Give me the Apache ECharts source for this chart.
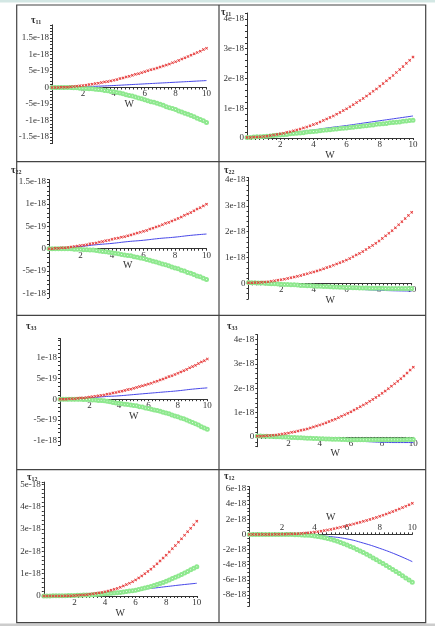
<!DOCTYPE html>
<html>
<head>
<meta charset="utf-8">
<script src="https://cdn.jsdelivr.net/npm/echarts@6/dist/echarts.min.js"></script>
<style>
body{margin:0;background:#fff}
#chart{width:435px;height:626px}
</style>
</head>
<body>
<div id="chart"></div>
<script>
// W samples for the marker curves (red crosses, green circles)
var W = [0,0.2,0.4,0.6,0.8,1,1.2,1.4,1.6,1.8,2,2.2,2.4,2.6,2.8,3,3.2,3.4,3.6,3.8,4,4.2,4.4,4.6,4.8,5,5.2,5.4,5.6,5.8,6,6.2,6.4,6.6,6.8,7,7.2,7.4,7.6,7.8,8,8.2,8.4,8.6,8.8,9,9.2,9.4,9.6,9.8,10];
// W samples for the blue solid curves
var W_INT = [0,1,2,3,4,5,6,7,8,9,10];

// all values in units of 1e-18
var red11L = [0,0,0,0.01,0.01, 0.01,0.02,0.03,0.04,0.05, 0.06,0.07,0.09,0.1,0.12, 0.13,0.15,0.17,0.18,0.2, 0.22,0.24,0.27,0.29,0.32, 0.34,0.37,0.4,0.42,0.45, 0.48,0.51,0.54,0.56,0.59, 0.62,0.65,0.68,0.71,0.75, 0.78,0.82,0.86,0.9,0.94, 0.98,1.02,1.06,1.1,1.15, 1.19];
var green11L = [0,0,0,0,0, 0,0,-0.01,-0.01,-0.02, -0.02,-0.03,-0.04,-0.04,-0.05, -0.06,-0.07,-0.09,-0.1,-0.12, -0.13,-0.15,-0.17,-0.19,-0.22, -0.24,-0.26,-0.29,-0.32,-0.34, -0.37,-0.4,-0.43,-0.45,-0.48, -0.51,-0.54,-0.58,-0.61,-0.64, -0.67,-0.71,-0.74,-0.78,-0.81, -0.85,-0.89,-0.93,-0.97,-1.01, -1.06];
var blue11L = [0,0.005,0.02,0.04,0.06,0.085,0.11,0.135,0.16,0.185,0.21];

var red11R = [0.02,0.02,0.03,0.03,0.04, 0.05,0.06,0.08,0.1,0.12, 0.14,0.16,0.19,0.21,0.24, 0.27,0.3,0.34,0.37,0.41, 0.45,0.49,0.54,0.59,0.64, 0.69,0.74,0.8,0.86,0.92, 0.98,1.05,1.12,1.19,1.26, 1.33,1.41,1.49,1.57,1.65, 1.74,1.83,1.92,2.01,2.1, 2.2,2.3,2.4,2.51,2.61, 2.72];
var green11R = [0.02,0.02,0.03,0.04,0.04, 0.05,0.06,0.07,0.08,0.09, 0.1,0.11,0.12,0.14,0.15, 0.16,0.17,0.18,0.2,0.21, 0.22,0.23,0.24,0.26,0.27, 0.28,0.29,0.3,0.32,0.33, 0.34,0.35,0.36,0.38,0.39, 0.4,0.41,0.43,0.44,0.46, 0.47,0.48,0.49,0.51,0.52, 0.53,0.54,0.56,0.57,0.59, 0.6];
var blue11R = [0.02,0.07,0.13,0.2,0.27,0.35,0.42,0.5,0.58,0.66,0.74];

var red22L = [0,0,0.01,0.01,0.02, 0.02,0.03,0.04,0.05,0.06, 0.07,0.08,0.09,0.11,0.12, 0.13,0.15,0.16,0.18,0.19, 0.21,0.23,0.24,0.26,0.27, 0.29,0.31,0.33,0.35,0.37, 0.39,0.41,0.44,0.46,0.49, 0.51,0.54,0.57,0.59,0.62, 0.65,0.68,0.71,0.75,0.78, 0.81,0.85,0.89,0.92,0.96, 1.0];
var green22L = [0,0,0,0,0, 0,0,0,-0.01,-0.01, -0.01,-0.02,-0.02,-0.03,-0.03, -0.04,-0.05,-0.06,-0.07,-0.08, -0.09,-0.1,-0.11,-0.13,-0.14, -0.15,-0.16,-0.18,-0.19,-0.21, -0.22,-0.24,-0.26,-0.28,-0.3, -0.32,-0.34,-0.36,-0.38,-0.41, -0.43,-0.45,-0.48,-0.5,-0.53, -0.55,-0.58,-0.61,-0.63,-0.66, -0.69];
var blue22L = [0,0.02,0.05,0.09,0.12,0.16,0.19,0.23,0.26,0.3,0.33];

var red22R = [0.02,0.02,0.03,0.03,0.04, 0.05,0.06,0.08,0.1,0.12, 0.14,0.16,0.19,0.22,0.24, 0.27,0.3,0.34,0.37,0.41, 0.44,0.48,0.52,0.56,0.61, 0.65,0.7,0.75,0.8,0.85, 0.9,0.96,1.03,1.1,1.16, 1.23,1.31,1.39,1.47,1.55, 1.64,1.74,1.84,1.94,2.04, 2.15,2.27,2.39,2.51,2.63, 2.75];
var green22R = [0.03,0.02,0.02,0.01,0.01, 0,-0.01,-0.02,-0.02,-0.03, -0.04,-0.05,-0.05,-0.06,-0.06, -0.07,-0.08,-0.08,-0.09,-0.09, -0.1,-0.11,-0.11,-0.12,-0.12, -0.13,-0.14,-0.14,-0.15,-0.15, -0.16,-0.16,-0.17,-0.17,-0.18, -0.18,-0.18,-0.19,-0.19,-0.19, -0.19,-0.19,-0.2,-0.2,-0.2, -0.2,-0.2,-0.2,-0.2,-0.2, -0.2];
var blue22R = [0.03,0,-0.04,-0.08,-0.12,-0.16,-0.2,-0.24,-0.27,-0.29,-0.3];

var red33L = [0,0,0,0.01,0.01, 0.01,0.02,0.03,0.03,0.04, 0.05,0.06,0.07,0.08,0.09, 0.1,0.12,0.13,0.15,0.16, 0.18,0.19,0.21,0.23,0.24, 0.26,0.28,0.3,0.32,0.34, 0.36,0.38,0.41,0.43,0.46, 0.48,0.51,0.54,0.56,0.59, 0.62,0.65,0.68,0.71,0.75, 0.78,0.81,0.85,0.89,0.92, 0.96];
var green33L = [0,0,0,0,0, 0,0,0,-0.01,-0.01, -0.01,-0.02,-0.02,-0.03,-0.03, -0.04,-0.05,-0.06,-0.08,-0.09, -0.1,-0.11,-0.12,-0.13,-0.14, -0.15,-0.16,-0.18,-0.19,-0.21, -0.22,-0.24,-0.26,-0.27,-0.29, -0.31,-0.33,-0.35,-0.38,-0.4, -0.42,-0.45,-0.47,-0.5,-0.53, -0.56,-0.59,-0.62,-0.66,-0.69, -0.72];
var blue33L = [0,0.01,0.03,0.06,0.08,0.11,0.14,0.17,0.2,0.24,0.27];

var red33R = [0.03,0.03,0.04,0.05,0.06, 0.07,0.08,0.1,0.12,0.14, 0.16,0.19,0.21,0.24,0.27, 0.3,0.33,0.37,0.41,0.45, 0.49,0.53,0.58,0.63,0.68, 0.73,0.79,0.85,0.91,0.97, 1.03,1.1,1.17,1.24,1.31, 1.38,1.46,1.54,1.62,1.7, 1.79,1.88,1.98,2.08,2.18, 2.28,2.39,2.5,2.62,2.74, 2.86];
var green33R = [0.04,0.04,0.03,0.03,0.02, 0.02,0.01,0.01,0,0, -0.01,-0.02,-0.02,-0.03,-0.03, -0.04,-0.05,-0.05,-0.06,-0.06, -0.07,-0.07,-0.08,-0.08,-0.09, -0.09,-0.09,-0.1,-0.1,-0.11, -0.11,-0.11,-0.11,-0.12,-0.12, -0.12,-0.12,-0.12,-0.12,-0.12, -0.12,-0.12,-0.12,-0.12,-0.11, -0.11,-0.11,-0.11,-0.1,-0.1, -0.1];
var blue33R = [0.04,0.02,-0.01,-0.04,-0.08,-0.12,-0.16,-0.19,-0.22,-0.23,-0.23];

var red12L = [0,0,0,0,0, 0,0,0.01,0.01,0.01, 0.02,0.03,0.04,0.05,0.06, 0.08,0.1,0.12,0.14,0.16, 0.19,0.22,0.26,0.3,0.34, 0.39,0.45,0.51,0.57,0.64, 0.72,0.81,0.9,1.0,1.1, 1.2,1.32,1.44,1.57,1.7, 1.83,1.97,2.12,2.26,2.41, 2.56,2.72,2.88,3.03,3.19, 3.35];
var green12L = [0,0,0,0.01,0.01, 0.01,0.01,0.01,0.02,0.02, 0.02,0.03,0.03,0.04,0.04, 0.05,0.06,0.07,0.08,0.09, 0.1,0.11,0.12,0.13,0.15, 0.16,0.18,0.2,0.22,0.24, 0.26,0.29,0.32,0.36,0.39, 0.43,0.47,0.52,0.56,0.61, 0.66,0.72,0.78,0.84,0.9, 0.96,1.03,1.1,1.17,1.24, 1.31];
var blue12L = [0,0.01,0.03,0.07,0.13,0.2,0.27,0.34,0.42,0.5,0.57];

var red12R = [0,0,0,0,0, 0,0,0,0.01,0.01, 0.02,0.03,0.05,0.06,0.08, 0.1,0.13,0.17,0.21,0.25, 0.3,0.36,0.43,0.5,0.58, 0.66,0.75,0.85,0.94,1.05, 1.15,1.26,1.37,1.49,1.6, 1.72,1.85,1.98,2.11,2.24, 2.38,2.53,2.69,2.85,3.01, 3.18,3.36,3.54,3.72,3.91, 4.1];
var green12R = [0,0,0,0,0, 0,0,0,0,0, -0.01,-0.01,-0.02,-0.03,-0.04, -0.05,-0.07,-0.1,-0.13,-0.16, -0.2,-0.27,-0.36,-0.46,-0.55, -0.65,-0.78,-0.92,-1.07,-1.23, -1.4,-1.59,-1.78,-1.98,-2.19, -2.4,-2.63,-2.86,-3.11,-3.35, -3.6,-3.86,-4.12,-4.38,-4.64, -4.9,-5.18,-5.47,-5.75,-6.04, -6.33];
var blue12R = [0,0,-0.01,-0.04,-0.12,-0.3,-0.6,-1.15,-1.84,-2.65,-3.6];

// panel layout (pixel boxes)
var panels = [
	{sub: "11", red: red11L, green: green11L, blue: blue11L, box: [52, 24.8, 154.5, 118.8], min: -1.7, max: 1.9, tick: 0.1, step: 0.5, tl: [31, 14], gap: 10},
	{sub: "11", red: red11R, green: green11R, blue: blue11R, box: [247, 13, 166, 125], min: 0, max: 4.2, tick: 0.2, step: 1, tl: [221, 6], gap: 9},
	{sub: "22", red: red22L, green: green22L, blue: blue22L, box: [49, 179.6, 157.5, 118.2], min: -1.1, max: 1.55, tick: 0.1, step: 0.5, tl: [11, 164], gap: 9},
	{sub: "22", red: red22R, green: green22R, blue: blue22R, box: [248.5, 177.5, 163.2, 121.3], min: -0.6, max: 4.1, tick: 0.2, step: 1, tl: [224, 164], gap: 10},
	{sub: "33", red: red33L, green: green33L, blue: blue33L, box: [60, 338.5, 147.3, 106.7], min: -1.1, max: 1.45, tick: 0.1, step: 0.5, tl: [26, 320], gap: 9},
	{sub: "33", red: red33R, green: green33R, blue: blue33R, box: [257.3, 334.5, 156, 112.2], min: -0.4, max: 4.2, tick: 0.2, step: 1, tl: [227, 320], gap: 8},
	{sub: "12", red: red12L, green: green12L, blue: blue12L, box: [43.8, 482.1, 153, 113.9], min: 0, max: 5.1, tick: 0.2, step: 1, tl: [27, 471], gap: 11},
	{sub: "12", red: red12R, green: green12R, blue: blue12R, box: [249.3, 486.7, 163, 119.6], min: -9.5, max: 6.3, tick: 0.5, step: 2, tl: [224, 470], gap: 9, up: true}
];

var serif = "Liberation Serif";
var axisColor = "#333";
var crossPath = "path://M0,2L2,0L5,3L8,0L10,2L7,5L10,8L8,10L5,7L2,10L0,8L3,5Z";

function fmtE(v) {
	if(Math.abs(v) < 1e-9) return "0";
	var a = Math.abs(v),
		s = v < 0 ? "-" : "";
	if(a < 1 - 1e-9) return s + Math.round(a * 10) + "e-19";
	return s + (Math.round(a * 10) / 10) + "e-18";
}

function pairs(xs, ys) {
	var out = [];
	for(var i = 0; i < xs.length; i++) {
		out.push([xs[i], ys[i]]);
	}
	return out;
}

var grids = [], xAxes = [], yAxes = [], series = [], titles = [];

for(var i = 0; i < panels.length; i++) {
	var p = panels[i];
	// x axis sits on y = 0: shift it from the grid edge into the plot
	var zeroShift;
	if(p.up) {
		zeroShift = -p.box[3] * p.max / (p.max - p.min);
	} else {
		zeroShift = p.min < 0 ? -p.box[3] * (0 - p.min) / (p.max - p.min) : 0;
	}
	grids.push({
		left: p.box[0], top: p.box[1], width: p.box[2], height: p.box[3],
		containLabel: false, outerBoundsMode: "none"
	});
	xAxes.push({
		type: "value", gridIndex: i, min: 0, max: 10, interval: 0.25,
		position: p.up ? "top" : "bottom", offset: zeroShift,
		name: "W", nameLocation: "middle", nameGap: p.gap,
		nameTextStyle: {fontFamily: serif, fontSize: 10, color: axisColor},
		axisLine: {onZero: false, lineStyle: {color: axisColor, width: 1}},
		axisTick: {show: true, length: 2, lineStyle: {color: axisColor}},
		splitLine: {show: false},
		axisLabel: {
			margin: 2, fontFamily: serif, fontSize: 9, color: axisColor,
			formatter: function(v) {
				return (v > 0 && Math.abs(v / 2 - Math.round(v / 2)) < 1e-6) ? String(Math.round(v)) : "";
			}
		}
	});
	yAxes.push({
		type: "value", gridIndex: i, min: p.min, max: p.max, interval: p.tick,
		axisLine: {show: true, onZero: false, lineStyle: {color: axisColor, width: 1}},
		axisTick: {show: true, length: 2, lineStyle: {color: axisColor}},
		splitLine: {show: false},
		axisLabel: {
			margin: 3, fontFamily: serif, fontSize: 9, color: axisColor,
			formatter: (function(step) {
				return function(v) {
					var k = v / step;
					return Math.abs(k - Math.round(k)) < 1e-6 ? fmtE(v) : "";
				}
			})(p.step)
		}
	});
	series.push({
		type: "line", xAxisIndex: i, yAxisIndex: i, data: pairs(W, p.green),
		symbol: "emptyCircle", symbolSize: 3, showAllSymbol: true,
		lineStyle: {width: 0}, itemStyle: {color: "#8ee88e", borderWidth: 0.8}
	});
	series.push({
		type: "line", xAxisIndex: i, yAxisIndex: i, data: pairs(W_INT, p.blue),
		smooth: true, showSymbol: false,
		lineStyle: {color: "#4646e8", width: 1}
	});
	series.push({
		type: "line", xAxisIndex: i, yAxisIndex: i, data: pairs(W, p.red),
		symbol: crossPath, symbolSize: 3, showAllSymbol: true,
		lineStyle: {width: 0}, itemStyle: {color: "#e53535"}
	});
	titles.push({
		text: "{t|τ}{s|" + p.sub + "}",
		left: p.tl[0], top: p.tl[1], padding: 0,
		textStyle: {
			rich: {
				t: {fontFamily: serif, fontSize: 10, color: axisColor, lineHeight: 12},
				s: {fontFamily: serif, fontSize: 6, color: axisColor, lineHeight: 12, padding: [5, 0, 0, 0]}
			}
		}
	});
}

var lineStyle = {stroke: "#444", lineWidth: 1.2};
var graphics = [
	{type: "rect", shape: {x: 0, y: 0, width: 435, height: 2.5}, style: {fill: "#d3e7e4"}, silent: true},
	{type: "rect", shape: {x: 0, y: 623.5, width: 435, height: 3}, style: {fill: "#cccccc"}, silent: true},
	{type: "rect", shape: {x: 16.7, y: 5, width: 409, height: 617.7}, style: {fill: "none", stroke: "#444", lineWidth: 1.2}, silent: true},
	{type: "line", shape: {x1: 219, y1: 5, x2: 219, y2: 622.7}, style: lineStyle, silent: true},
	{type: "line", shape: {x1: 16.7, y1: 161.7, x2: 425.7, y2: 161.7}, style: lineStyle, silent: true},
	{type: "line", shape: {x1: 16.7, y1: 315.3, x2: 425.7, y2: 315.3}, style: lineStyle, silent: true},
	{type: "line", shape: {x1: 16.7, y1: 469.7, x2: 425.7, y2: 469.7}, style: lineStyle, silent: true}
];

var chart = echarts.init(document.getElementById("chart"), null, {renderer: "canvas", width: 435, height: 626});
chart.setOption({
	animation: false,
	backgroundColor: "#fff",
	title: titles,
	grid: grids,
	xAxis: xAxes,
	yAxis: yAxes,
	series: series,
	graphic: {elements: graphics}
});
</script>
</body>
</html>
